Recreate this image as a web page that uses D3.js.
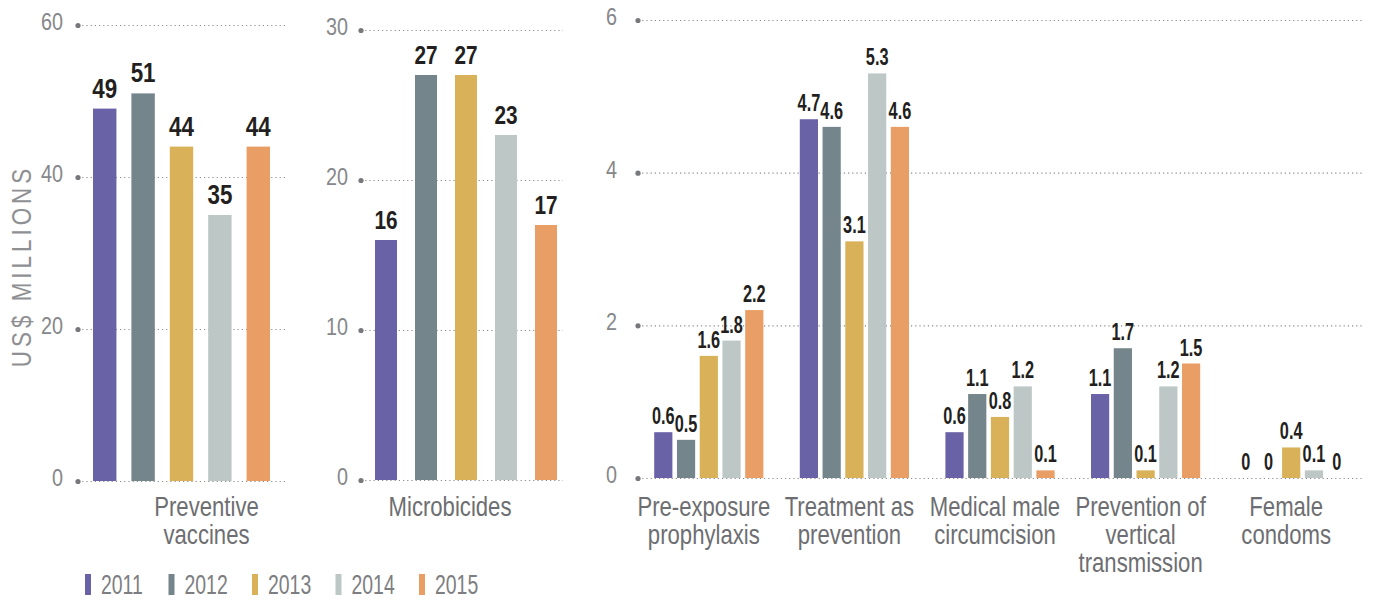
<!DOCTYPE html>
<html>
<head>
  <meta charset="utf-8">
  <title>prevention funding</title>
  <script src="https://cdnjs.cloudflare.com/ajax/libs/d3/7.8.5/d3.min.js"></script>
</head>
<style>
  body { margin: 0; background: #fff; }
  svg { display: block; font-family: 'Liberation Sans', Arial, sans-serif; }
  .grid line { stroke: #8a8a8a; stroke-width: 1.2; stroke-dasharray: 1.2 3; }
  .grid text { fill: #86878a; font-size: 23px; }
  .cat { fill: #6d6e71; font-size: 27px; }
  .val { fill: #231f20; font-weight: bold; text-anchor: middle; }
</style>
<body>
<svg id="svg" width="1374" height="601"></svg>
<script type="text/javascript">
  const years = ['2011', '2012', '2013', '2014', '2015'];
  const yearColors = ['#6962a6', '#74858b', '#d8b158', '#bcc7c6', '#e99e65'];

  const vaccineValues = [49, 51, 44, 35, 44];
  const microbicideValues = [16, 27, 27, 23, 17];

  const otherCategories = [
    ['Pre-exposure', 'prophylaxis'],
    ['Treatment as', 'prevention'],
    ['Medical male', 'circumcision'],
    ['Prevention of', 'vertical', 'transmission'],
    ['Female', 'condoms'],
  ];
  // one row per year, one value per category above
  const otherValues = [
    [0.6, 4.7, 0.6, 1.1, 0],
    [0.5, 4.6, 1.1, 1.7, 0],
    [1.6, 3.1, 0.8, 0.1, 0.4],
    [1.8, 5.3, 1.2, 1.2, 0.1],
    [2.2, 4.6, 0.1, 1.5, 0],
  ];

  const svg = d3.select('svg');
  const color = d3.scaleOrdinal().domain(years).range(yearColors);

  // no condensed face installed, so text gets squeezed sideways
  const SQ_TICK = 0.86, SQ_CAT = 0.82, SQ_LEG = 0.72;

  const panels = [
    {
      cats: [['Preventive', 'vaccines']],
      rows: years.map((y, i) => [vaccineValues[i]]),
      ticks: [0, 20, 40, 60], y: [481, 25], axisX: 78, gridEnd: 285,
      band: [93, 270], pin: 0, pout: 0, inner: 0.39, labelShift: 25,
      tickPad: 15, valSize: 28, valSq: 0.8, valGap: 11, fmt: d3.format('d'),
    },
    {
      cats: [['Microbicides']],
      rows: years.map((y, i) => [microbicideValues[i]]),
      ticks: [0, 10, 20, 30], y: [480, 30], axisX: 361, gridEnd: 563,
      band: [375, 557], pin: 0, pout: 0, inner: 0.45, labelShift: -16,
      tickPad: 13, valSize: 26, valSq: 0.8, valGap: 11, fmt: d3.format('d'),
    },
    {
      cats: otherCategories,
      rows: otherValues,
      ticks: [0, 2, 4, 6], y: [478, 20], axisX: 638, gridEnd: 1364,
      band: [636, 1364], pin: 0.25, pout: 0.125, inner: 0.2, labelShift: -5,
      tickPad: 21, valSize: 24, valSq: 0.68, valGap: 8,
      fmt: v => v === 0 ? '0' : d3.format('.1f')(v),
    },
  ];

  panels.forEach(p => {
    const g = svg.append('g');
    const yScale = d3.scaleLinear().domain([0, d3.max(p.ticks)]).range(p.y);
    const xOuter = d3.scaleBand().domain(d3.range(p.cats.length)).range(p.band)
      .paddingInner(p.pin).paddingOuter(p.pout);
    const xInner = d3.scaleBand().domain(years).range([0, xOuter.bandwidth()]).paddingInner(p.inner);

    // dotted grid + tick labels
    const axis = d3.axisLeft(yScale).tickValues(p.ticks).tickFormat(d3.format('d'))
      .tickSize(-(p.gridEnd - p.axisX)).tickPadding(p.tickPad);
    const ax = g.append('g').attr('class', 'grid')
      .attr('transform', `translate(${p.axisX},0)`).call(axis);
    ax.select('.domain').remove();
    ax.selectAll('.tick text')
      .attr('x', -p.tickPad / SQ_TICK)
      .attr('dy', '0.2em')
      .attr('transform', `scale(${SQ_TICK},1)`);
    ax.selectAll('.tick').append('circle').attr('r', 2.6).attr('fill', '#77787b');

    const data = [];
    p.cats.forEach((c, ci) => years.forEach((yr, yi) => data.push({ ci, yr, v: p.rows[yi][ci] })));

    g.selectAll('rect.bar').data(data).enter().append('rect')
      .attr('class', 'bar')
      .attr('x', d => xOuter(d.ci) + xInner(d.yr))
      .attr('width', xInner.bandwidth())
      .attr('y', d => yScale(d.v))
      .attr('height', d => yScale(0) - yScale(d.v))
      .attr('fill', d => color(d.yr));

    g.selectAll('text.val').data(data).enter().append('text')
      .attr('class', 'val')
      .style('font-size', p.valSize + 'px')
      .attr('transform', d => {
        const cx = xOuter(d.ci) + xInner(d.yr) + xInner.bandwidth() / 2;
        return `translate(${cx},${yScale(d.v) - p.valGap}) scale(${p.valSq},1)`;
      })
      .text(d => p.fmt(d.v));

    const labels = g.selectAll('text.cat').data(p.cats).enter().append('text')
      .attr('class', 'cat')
      .attr('text-anchor', 'middle')
      .attr('transform', (d, i) =>
        `translate(${xOuter(i) + xOuter.bandwidth() / 2 + p.labelShift},516) scale(${SQ_CAT},1)`);
    labels.selectAll('tspan').data(d => d).enter().append('tspan')
      .attr('x', 0).attr('y', (d, i) => i * 28).text(d => d);
  });

  // y title
  svg.append('text')
    .attr('transform', 'translate(31,266) rotate(-90) scale(0.8,1)')
    .attr('text-anchor', 'middle')
    .attr('fill', '#8f9093')
    .style('font-size', '28px')
    .style('letter-spacing', '5px')
    .text('US$ MILLIONS');

  // legend
  const legend = svg.append('g').selectAll('g').data(years).enter().append('g')
    .attr('transform', (d, i) => `translate(${85 + i * 83.5},574)`);
  legend.append('rect').attr('width', 6).attr('height', 21).attr('fill', d => color(d));
  legend.append('text')
    .attr('transform', `translate(16,20) scale(${SQ_LEG},1)`)
    .attr('fill', '#7d7e81').style('font-size', '27px').text(d => d);
</script>
</body>
</html>
